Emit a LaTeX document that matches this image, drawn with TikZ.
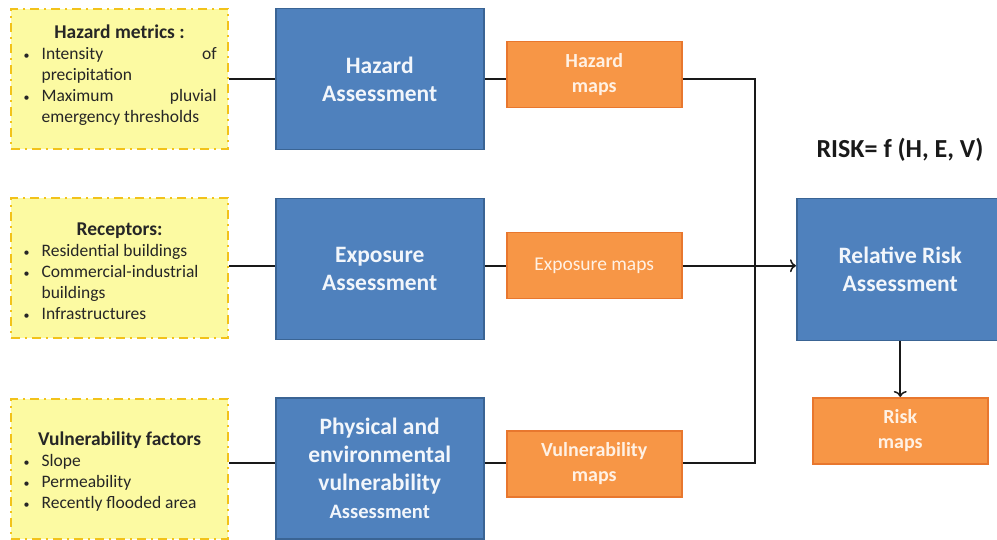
\documentclass[tikz,border=0pt]{standalone}
\usepackage{fontspec}
\setmainfont{Carlito}
\usetikzlibrary{arrows.meta}
\definecolor{yfill}{HTML}{FCFAA2}
\definecolor{ydraw}{HTML}{F2C21A}
\definecolor{bfill}{HTML}{4F81BD}
\definecolor{bdraw}{HTML}{3A6494}
\definecolor{ofill}{HTML}{F79646}
\definecolor{odraw}{HTML}{E8772E}
\definecolor{btext}{HTML}{F2F6FB}
\definecolor{otext}{HTML}{FFF1E4}
\newcommand\bitem[1]{\par\noindent\hangindent=19pt\hangafter=1\makebox[19pt][l]{\hspace{1pt}{\fontsize{12}{12}\selectfont\textbullet}}#1\par}
\newcommand\yhead[1]{{\centering\bfseries\fontsize{19.5}{24}\selectfont #1\par}}
\tikzset{
  ybox/.style={draw=ydraw, fill=yfill, line width=2.2pt, dash pattern=on 9pt off 5pt on 2pt off 5pt,
    anchor=north west, minimum width=217pt, minimum height=140pt, inner sep=0pt},
  ytext/.style={text width=194pt, align=justify, inner sep=0pt, font=\fontsize{17.5}{21}\selectfont, text=black!85},
  bbox/.style={draw=bdraw, fill=bfill, line width=1.5pt, anchor=north west, minimum width=208pt,
    minimum height=141pt, inner sep=0pt, align=center, text=btext, font=\bfseries\fontsize{23.5}{28}\selectfont},
  obox/.style={draw=odraw, fill=ofill, line width=1.5pt, anchor=north west, minimum width=175pt,
    minimum height=66pt, inner sep=0pt, align=center, text=otext, font=\bfseries\fontsize{20}{25}\selectfont},
  conn/.style={draw=black!90, line width=1.6pt},
  arr/.style={conn, -{To[length=6pt,width=13pt,line width=1.5pt]}}
}
\begin{document}
\begin{tikzpicture}[x=1pt,y=-1pt]
\useasboundingbox (0,0) rectangle (997,540);
% yellow boxes
\node[ybox] (y1) at (10,8) {};
\node[ytext] (y1t) at ([yshift=4pt]y1.center) {\yhead{Hazard metrics :}
 \bitem{Intensity\hfill of\\precipitation}
 \bitem{Maximum\hfill pluvial\\emergency thresholds}};
\node[ybox] (y2) at (10,197) {};
\node[ytext] (y2t) at ([yshift=-3pt]y2.center) {\yhead{Receptors:}
 \bitem{Residential buildings}
 \bitem{Commercial-industrial\\buildings}
 \bitem{Infrastructures}};
\node[ybox] (y3) at (10,398) {};
\node[ytext] (y3t) at ([yshift=-2pt]y3.center) {\yhead{Vulnerability factors}
 \bitem{Slope}
 \bitem{Permeability}
 \bitem{Recently flooded area}};
% blue boxes
\node[bbox] (b1) at (275,8) {Hazard\\Assessment};
\node[bbox] (b2) at (275,198) {Exposure\\Assessment};
\node[bbox] (b3) at (275,397) {Physical and\\environmental\\vulnerability\\{\fontsize{20.5}{26}\selectfont Assessment}};
% orange boxes
\node[obox] (o1) at (506,41) {Hazard\\maps};
\node[obox, font=\fontsize{19.5}{25}\selectfont] (o2) at (506,232) {Exposure maps};
\node[obox] (o3) at (506,430) {Vulnerability\\maps};
% risk
\node[bbox, minimum width=207pt, minimum height=142pt] (rr) at (796,198) {Relative Risk\\Assessment};
\node[obox] (rm) at (812,397) {Risk\\maps};
\node[font=\bfseries\fontsize{26}{30}\selectfont, text=black!90] (eq) at (900,150) {RISK= f (H, E, V)};
% connectors
\coordinate (cT) at (755,79);
\coordinate (cB) at (755,463);
\draw[conn] (y1.east |- cT) -- (b1.west |- cT);
\draw[conn] (b1.east |- cT) -- (o1.west |- cT);
\draw[conn] (y2.east |- o2) -- (b2.west |- o2);
\draw[conn] (b2.east |- o2) -- (o2.west);
\draw[conn] (y3.east |- cB) -- (b3.west |- cB);
\draw[conn] (b3.east |- cB) -- (o3.west |- cB);
\draw[conn] (o1.east |- cT) -- (cT) -- (cB) -- (o3.east |- cB);
\draw[arr] (o2.east) -- (o2.east -| rr.west);
\draw[arr] (rm.north |- rr.south) -- (rm.north);
\end{tikzpicture}
\end{document}
